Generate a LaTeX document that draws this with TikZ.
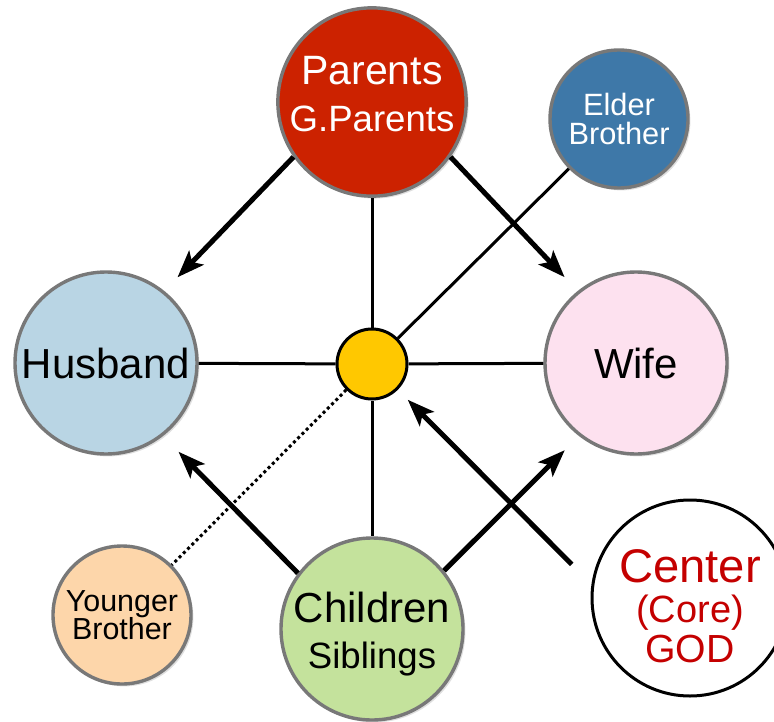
\documentclass[tikz,border=0pt]{standalone}
\usepackage{fontspec}
\setmainfont{Liberation Sans}
\usetikzlibrary{arrows.meta,shadows}

\definecolor{parentsred}{RGB}{204,34,0}
\definecolor{elderblue}{RGB}{62,120,168}
\definecolor{husbandblue}{RGB}{185,213,228}
\definecolor{wifepink}{RGB}{253,225,239}
\definecolor{coreyellow}{RGB}{255,200,0}
\definecolor{childgreen}{RGB}{196,226,156}
\definecolor{youngerpeach}{RGB}{253,214,170}
\definecolor{godred}{RGB}{196,0,0}
\definecolor{rimgray}{RGB}{120,120,120}

\newcommand\fs[2]{\fontsize{#1}{#2}\selectfont\lineskiplimit=-20pt}

\begin{document}
\begin{tikzpicture}[%
    x=0.5pt,y=-0.5pt,%
    member/.style={circle,draw=rimgray,line width=1.7pt,align=center,inner sep=0pt,%
        drop shadow={shadow xshift=1.2pt,shadow yshift=-1.2pt,opacity=.25}},%
    bigmember/.style={member,minimum size=91pt},%
    smallmember/.style={member,minimum size=69pt},%
    spoke/.style={draw,line width=1.5pt},%
    flow/.style={draw,line width=2.5pt,%
        -{Stealth[length=13.5pt,width=10pt,inset=3pt]}},%
]%
    \useasboundingbox (0,0) rectangle (774,721);

    % family around the core
    \node[bigmember,fill=parentsred,text=white,font=\fs{20.5}{23.5}] (par) at (372,102)
        {Parents\\\fs{18.3}{23.5}G.Parents\rule[-8pt]{0pt}{8pt}};
    \node[smallmember,fill=elderblue,text=white,font=\fs{15.4}{14.5}] (eld) at (619,119)
        {Elder\\Brother};
    \node[bigmember,fill=husbandblue,font=\fs{21}{24}] (hus) at (106,363) {Husband};
    \node[bigmember,fill=wifepink,font=\fs{21}{24}] (wif) at (636,363) {Wife};
    \node[bigmember,fill=childgreen,font=\fs{21}{23}] (chi) at (372,629)
        {\rule{0pt}{20pt}Children\\\fs{18.3}{23}Siblings};
    \node[smallmember,fill=youngerpeach,font=\fs{15.2}{14}] (yng) at (122,615)
        {Younger\\Brother};
    \node[circle,draw=black,line width=1.5pt,fill=coreyellow,minimum size=35pt,inner sep=0pt]
        (core) at (372,364) {};
    \node[circle,draw=black,line width=1.5pt,minimum size=98pt,inner sep=0pt,align=center,%
        text=godred,font=\fs{23.6}{20}] (god) at (690,598)
        {\rule{0pt}{24.5pt}Center\\\fs{19}{20}(Core)\\\fs{19.6}{20}GOD};

    % spokes
    \foreach \n in {par,hus,wif,chi,eld}
        \draw[spoke] (core) -- (\n);
    \draw[spoke,dash pattern=on 1.5pt off 1.5pt] (core) -- (yng);

    % arrows
    \draw[flow,shorten >=9.5pt] (par.215) -- (hus.51);
    \draw[flow,shorten >=9.5pt] (par.325) -- (wif.129);
    \draw[flow,shorten >=11pt] (chi.143) -- (hus.308);
    \draw[flow,shorten >=10pt] (chi.39) -- (wif.232);
    \draw[flow,shorten <=14pt,shorten >=7pt] (god.172) -- (core.315);
\end{tikzpicture}
\end{document}
